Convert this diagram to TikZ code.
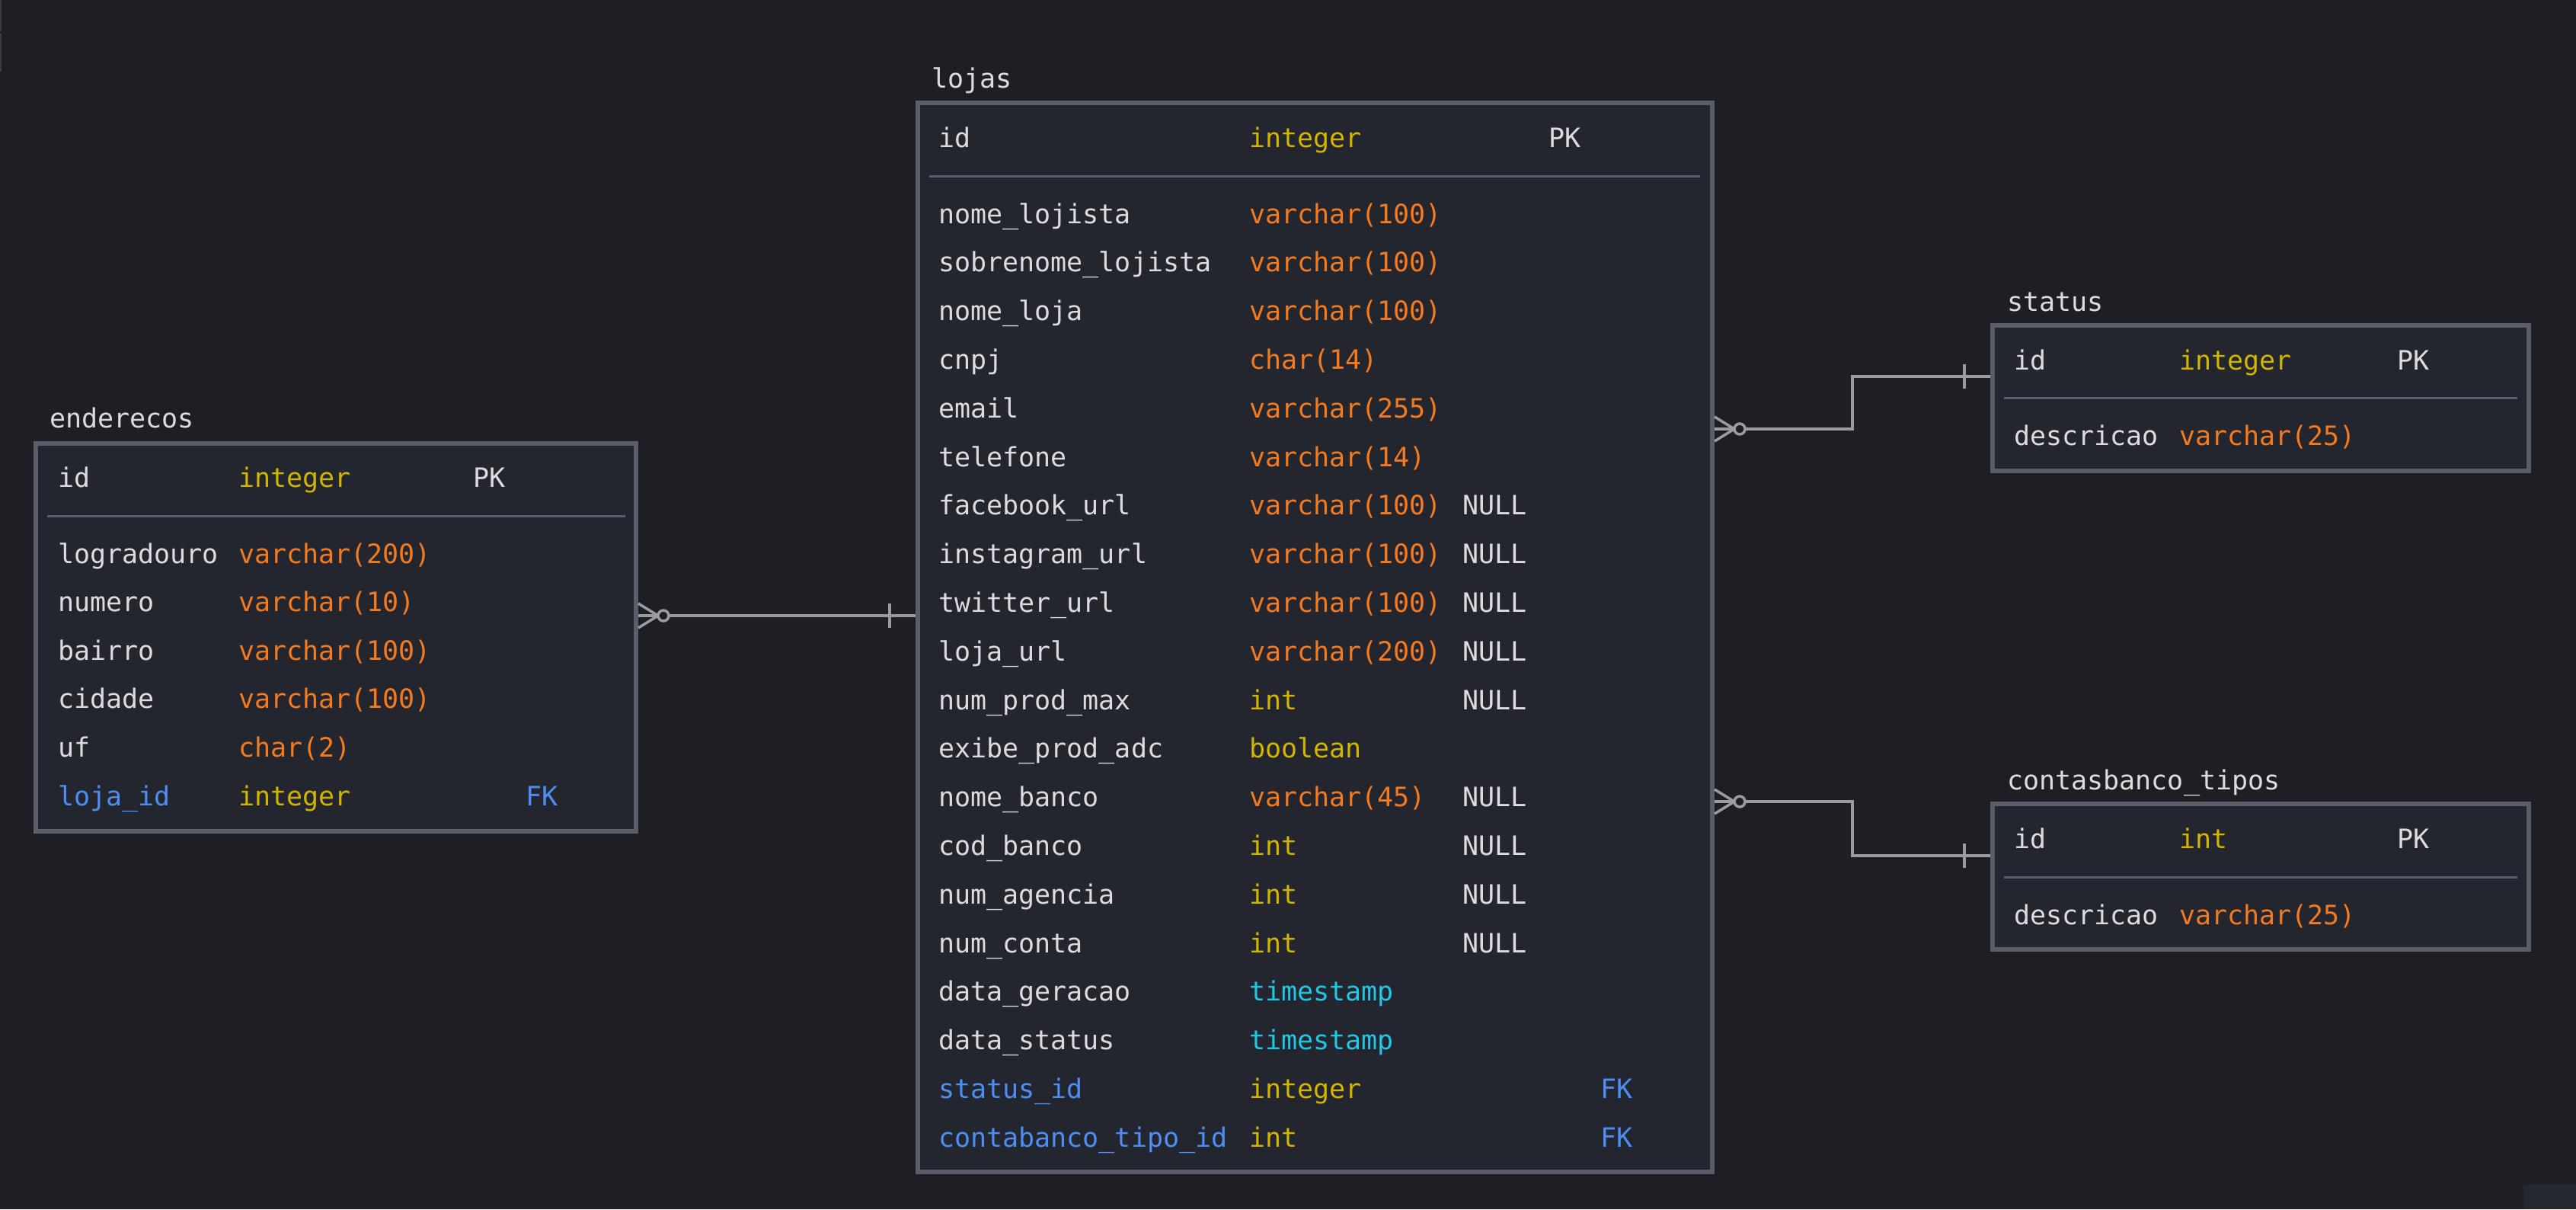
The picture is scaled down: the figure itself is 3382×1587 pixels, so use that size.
\documentclass[tikz,border=0pt]{standalone}
\usepackage{fontspec}
\setmainfont{DejaVu Sans Mono}
\usetikzlibrary{calc}
\definecolor{bg}{HTML}{1E1F24}
\definecolor{boxfill}{HTML}{23262F}
\definecolor{boxline}{HTML}{5A5D6A}
\definecolor{txtc}{HTML}{DCDCDC}
\definecolor{intc}{HTML}{D2B500}
\definecolor{vchc}{HTML}{F47A1F}
\definecolor{tsc}{HTML}{22C7E2}
\definecolor{fkc}{HTML}{4F8DF0}
\definecolor{connc}{HTML}{9A9CA2}
\definecolor{artc}{HTML}{3A3D48}
\definecolor{artd}{HTML}{252830}
\begin{document}
\begin{tikzpicture}[x=1pt,y=-1pt,
  txt/.style={font=\fontsize{35}{42}\selectfont, text=txtc, inner sep=0pt, anchor=base west},
  tablebox/.style={draw=boxline, line width=6pt, fill=boxfill, inner sep=0pt, rectangle},
  sepline/.style={draw=boxline, line width=3pt},
  conn/.style={draw=connc, line width=3.5pt},
]
\fill[bg] (0,0) rectangle (3382,1587);
\useasboundingbox (0,0) rectangle (3382,1587);
\fill[artc] (0,0) rectangle (2,41);
\fill[artc] (0,44) rectangle (2,94);
\fill[artd] (3313,1555) rectangle (3382,1587);

% ---------------- lojas ----------------
\node[tablebox, minimum width=1043pt, minimum height=1403pt] (lojas) at (1726.5,836.5) {};
\node[txt] (lojasT) at (1223,115) {lojas};
\node[txt] (lid) at (1232,193) {id};
\node[txt, text=intc] (lidt) at (1640,193) {integer};
\node[txt] (lpk) at (2033,193) {PK};
\draw[sepline] (1220,231) -- (2232,231);
\foreach [count=\i from 0] \n/\t/\tc in {
  nome\_lojista/varchar(100)/vchc,
  sobrenome\_lojista/varchar(100)/vchc,
  nome\_loja/varchar(100)/vchc,
  cnpj/char(14)/vchc,
  email/varchar(255)/vchc,
  telefone/varchar(14)/vchc,
  facebook\_url/varchar(100)/vchc,
  instagram\_url/varchar(100)/vchc,
  twitter\_url/varchar(100)/vchc,
  loja\_url/varchar(200)/vchc,
  num\_prod\_max/int/intc,
  exibe\_prod\_adc/boolean/intc,
  nome\_banco/varchar(45)/vchc,
  cod\_banco/int/intc,
  num\_agencia/int/intc,
  num\_conta/int/intc,
  data\_geracao/timestamp/tsc,
  data\_status/timestamp/tsc}{
  \node[txt] (ln\i) at (1232,{293+63.8*\i}) {\n};
  \node[txt, text=\tc] (lt\i) at (1640,{293+63.8*\i}) {\t};
}
\foreach \i in {6,7,8,9,10,12,13,14,15}{
  \node[txt] (lnull\i) at (1920,{293+63.8*\i}) {NULL};
}
\node[txt, text=fkc] (ln18) at (1232,{293+63.8*18}) {status\_id};
\node[txt, text=intc] (lt18) at (1640,{293+63.8*18}) {integer};
\node[txt, text=fkc] (lfk18) at (2101,{293+63.8*18}) {FK};
\node[txt, text=fkc] (ln19) at (1232,{293+63.8*19}) {contabanco\_tipo\_id};
\node[txt, text=intc] (lt19) at (1640,{293+63.8*19}) {int};
\node[txt, text=fkc] (lfk19) at (2101,{293+63.8*19}) {FK};

% ---------------- enderecos ----------------
\node[tablebox, minimum width=788pt, minimum height=509pt] (enderecos) at (441,836.5) {};
\node[txt] (endT) at (65,561) {enderecos};
\node[txt] (eid) at (76,639) {id};
\node[txt, text=intc] (eidt) at (313,639) {integer};
\node[txt] (epk) at (621,639) {PK};
\draw[sepline] (62,677.5) -- (821,677.5);
\foreach [count=\i from 0] \n/\t in {
  logradouro/varchar(200),
  numero/varchar(10),
  bairro/varchar(100),
  cidade/varchar(100),
  uf/char(2)}{
  \node[txt] (en\i) at (76,{739+63.6*\i}) {\n};
  \node[txt, text=vchc] (et\i) at (313,{739+63.6*\i}) {\t};
}
\node[txt, text=fkc] (en5) at (76,{739+63.6*5}) {loja\_id};
\node[txt, text=intc] (et5) at (313,{739+63.6*5}) {integer};
\node[txt, text=fkc] (efk5) at (690,{739+63.6*5}) {FK};

% ---------------- status ----------------
\node[tablebox, minimum width=704pt, minimum height=191pt] (status) at (2968,522.5) {};
\node[txt] (stT) at (2635,408) {status};
\node[txt] (sid) at (2644,485) {id};
\node[txt, text=intc] (sidt) at (2861,485) {integer};
\node[txt] (spk) at (3147,485) {PK};
\draw[sepline] (2631,522.7) -- (3305,522.7);
\node[txt] (sdesc) at (2644,584) {descricao};
\node[txt, text=vchc] (sdesct) at (2861,584) {varchar(25)};

% ---------------- contasbanco_tipos ----------------
\node[tablebox, minimum width=704pt, minimum height=191pt] (cbt) at (2968,1150.5) {};
\node[txt] (cbT) at (2635,1036) {contasbanco\_tipos};
\node[txt] (cid) at (2644,1113) {id};
\node[txt, text=intc] (cidt) at (2861,1113) {int};
\node[txt] (cpk) at (3147,1113) {PK};
\draw[sepline] (2631,1151) -- (3305,1151);
\node[txt] (cdesc) at (2644,1213) {descricao};
\node[txt, text=vchc] (cdesct) at (2861,1213) {varchar(25)};

% ---------------- connectors ----------------
% enderecos (many) -- lojas (one)
\coordinate (a1) at (enderecos.east |- 0,808);
\coordinate (b1) at (lojas.west |- 0,808);
\draw[conn] (a1) -- (b1);
\draw[conn] ($(a1)+(0,-16)$) -- ($(a1)+(26,0)$) -- ($(a1)+(0,16)$);
\draw[conn, fill=bg] ($(a1)+(33,0)$) circle[radius=7];
\draw[conn] ($(b1)+(-34,-16)$) -- ($(b1)+(-34,16)$);

% lojas (many) -- status (one)
\coordinate (a2) at (lojas.east |- 0,563);
\coordinate (b2) at (status.west |- 0,494);
\draw[conn] (a2) -- (2432,563) -- (2432,494) -- (b2);
\draw[conn] ($(a2)+(0,-16)$) -- ($(a2)+(26,0)$) -- ($(a2)+(0,16)$);
\draw[conn, fill=bg] ($(a2)+(33,0)$) circle[radius=7];
\draw[conn] ($(b2)+(-34,-16)$) -- ($(b2)+(-34,16)$);

% lojas (many) -- contasbanco_tipos (one)
\coordinate (a3) at (lojas.east |- 0,1052);
\coordinate (b3) at (cbt.west |- 0,1123);
\draw[conn] (a3) -- (2432,1052) -- (2432,1123) -- (b3);
\draw[conn] ($(a3)+(0,-16)$) -- ($(a3)+(26,0)$) -- ($(a3)+(0,16)$);
\draw[conn, fill=bg] ($(a3)+(33,0)$) circle[radius=7];
\draw[conn] ($(b3)+(-34,-16)$) -- ($(b3)+(-34,16)$);
\end{tikzpicture}
\end{document}
